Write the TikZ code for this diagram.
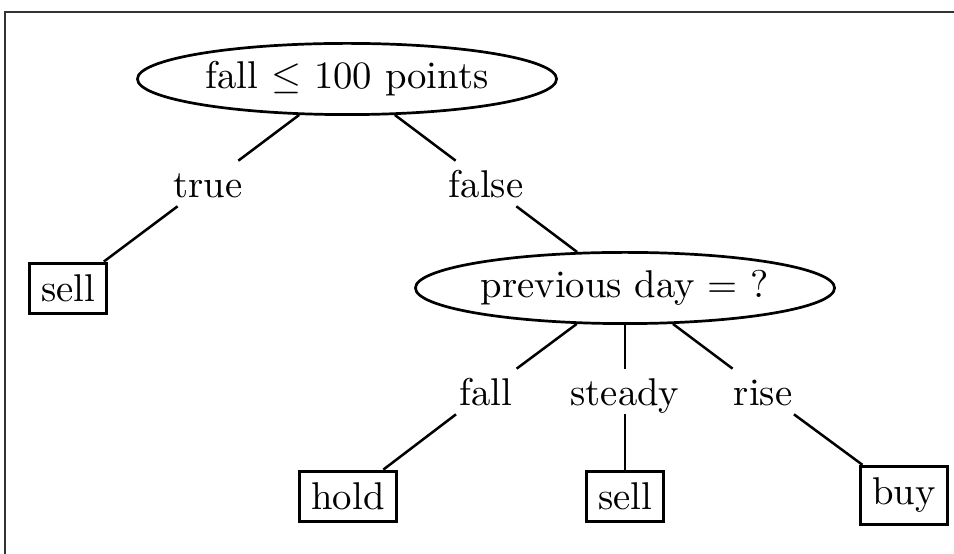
\documentclass[tikz,border=0pt]{standalone}
\usetikzlibrary{shapes.geometric}
\begin{document}
\begin{tikzpicture}[x=0.2584pt,y=-0.2584pt,
  decision/.style={ellipse,draw,line width=0.7pt,minimum width=108.3pt,minimum height=18.4pt,inner sep=0pt},
  leaf/.style={rectangle,draw,line width=0.85pt,inner sep=3pt},
  lbl/.style={inner xsep=2pt,inner ysep=2.2pt,text height=7pt,text depth=0pt},
  edge/.style={line width=0.65pt},
  frameline/.style={line width=0.6pt,draw=black!80}]
\useasboundingbox (0,0) rectangle (954,554);
\coordinate (fa) at (5,554);
\coordinate (fb) at (5,12);
\coordinate (fc) at (954,12);
\draw[frameline] (fa) -- (fb) -- (fc);
\node[decision] (root) at (347,79) {fall $\leq$ 100 points};
\node[lbl] (true) at (208,183.5) {true};
\node[lbl] (false) at (486,183.5) {false};
\node[leaf] (sellA) at (68,288.5) {sell};
\node[decision] (prev) at (625,288) {previous day = ?};
\node[lbl] (fall) at (486,391.5) {fall};
\node[lbl] (steady) at (625,391.5) {steady};
\node[lbl] (rise) at (763,391.5) {rise};
\node[leaf] (hold) at (348,496.5) {hold};
\node[leaf] (sellB) at (625,496.5) {sell};
\node[leaf] (buy) at (904,495.5) {buy};
\draw[edge] (root) -- (true);
\draw[edge] (true) -- (sellA);
\draw[edge] (root) -- (false);
\draw[edge] (false) -- (prev);
\draw[edge] (prev) -- (fall);
\draw[edge] (fall) -- (hold);
\draw[edge] (prev) -- (steady);
\draw[edge] (steady) -- (sellB);
\draw[edge] (prev) -- (rise);
\draw[edge] (rise) -- (buy);
\end{tikzpicture}
\end{document}
